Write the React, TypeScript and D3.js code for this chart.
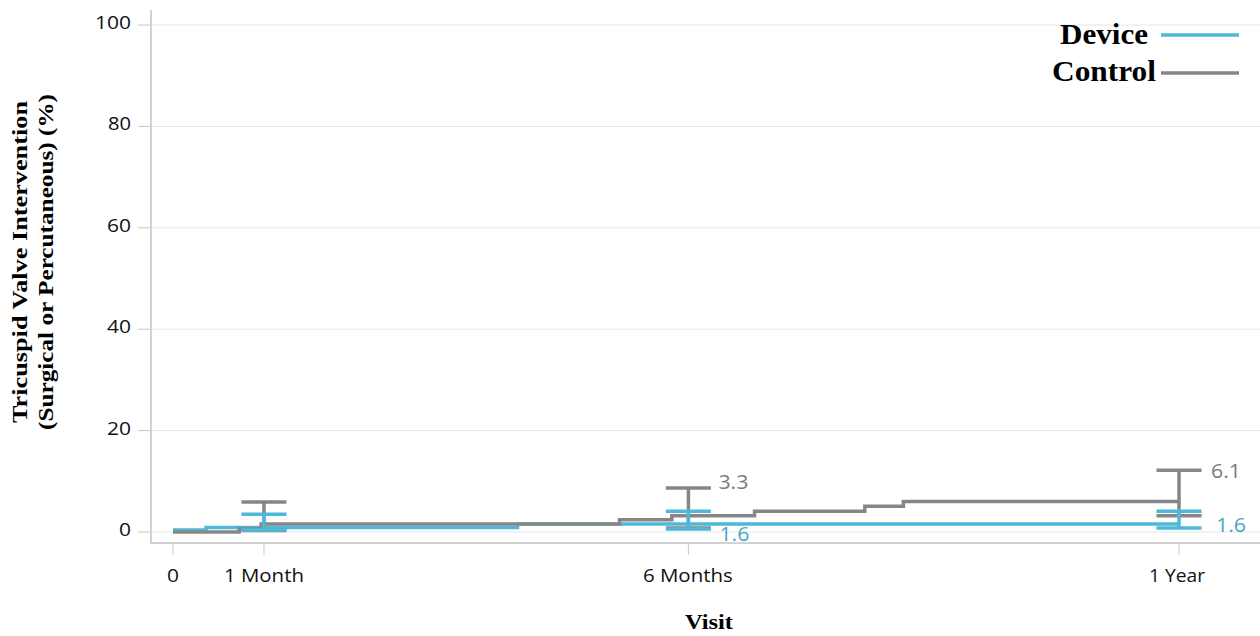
import React from "react";
import * as d3 from "d3";

// ---- data ----
const tickDays = [0, 33, 187, 365];
const tickLabels = ["0", "1 Month", "6 Months", "1 Year"];
const yTicks = [0, 20, 40, 60, 80, 100];

const deviceTimes = [0, 12, 125, 365];
const deviceValues = [0.4, 0.9, 1.6, 1.6];
const controlTimes = [0, 24, 32, 162, 181, 211, 251, 265, 365];
const controlValues = [0, 0.6, 1.6, 2.4, 3.2, 4.1, 5.1, 6.0, 6.0];

const visitDays = [33, 187, 365];
const deviceLower = [0.4, 0.6, 0.8];
const deviceUpper = [3.5, 4.1, 4.1];
const controlLower = [0.3, 0.8, 3.2];
const controlUpper = [5.9, 8.7, 12.2];

const annotDays = [187, 187, 365, 365];
const annotTexts = ["3.3", "1.6", "6.1", "1.6"];
const annotSeries = ["control", "device", "control", "device"];

const BLUE = "#4db8d8";
const GRAY = "#868686";
const BLUE_TXT = "#4aa6c6";
const GRAY_TXT = "#7c7c7c";

const W = 1260;
const H = 636;

const x = d3.scaleLinear().domain([0, 365]).range([173, 1179]);
const y = d3.scaleLinear().domain([0, 100]).range([532, 25]);

const stepLine = d3
  .line<[number, number]>()
  .x((d) => x(d[0]))
  .y((d) => y(d[1]))
  .curve(d3.curveStepAfter);

function T(props: any) {
  const { children, len, ...rest } = props;
  return (
    <text textLength={len} lengthAdjust="spacingAndGlyphs" {...rest}>
      {children}
    </text>
  );
}

export default function App() {
  const devPts = deviceTimes.map((t, i) => [t, deviceValues[i]] as [number, number]);
  const conPts = controlTimes.map((t, i) => [t, controlValues[i]] as [number, number]);
  const capHalf = 22.5;
  const sans = "'Open Sans', Lato, sans-serif";
  const serif = "'Liberation Serif', 'Times New Roman', serif";

  const yLabelLens: Record<number, number> = { 0: 12, 20: 24, 40: 24, 60: 24, 80: 23, 100: 36 };
  const xLabelLens = [12, 80, 90, 56];

  const annotDx = [30, 31, 32, 37];
  const annotDy = [-6, 4.5, 0.5, -3];

  const errBars = (lower: number[], upper: number[], color: string) =>
    visitDays.map((v, i) => (
      <g key={i} stroke={color} strokeWidth={3.5}>
        <line x1={x(v)} x2={x(v)} y1={y(upper[i])} y2={y(lower[i])} />
        <line x1={x(v) - capHalf} x2={x(v) + capHalf} y1={y(upper[i])} y2={y(upper[i])} />
        <line x1={x(v) - capHalf} x2={x(v) + capHalf} y1={y(lower[i])} y2={y(lower[i])} />
      </g>
    ));

  return (
    <svg
      width={W}
      height={H}
      style={{ position: "absolute", left: 0, top: 0, background: "#fff" }}
    >
      {/* grid */}
      {yTicks.map((t) => (
        <line key={"g" + t} x1={151} x2={W} y1={y(t)} y2={y(t)} stroke="#e6e6e6" strokeWidth={1} />
      ))}
      {/* frame */}
      <line x1={151} x2={151} y1={10} y2={544} stroke="#d2d2d2" strokeWidth={2} />
      <line x1={150} x2={W} y1={543} y2={543} stroke="#d2d2d2" strokeWidth={2} />
      {/* y ticks */}
      {yTicks.map((t) => (
        <g key={"yt" + t}>
          <line x1={138} x2={151} y1={y(t)} y2={y(t)} stroke="#c8c8c8" strokeWidth={1} />
          <T
            x={131 - yLabelLens[t]}
            y={y(t) + 4}
            len={yLabelLens[t]}
            fontFamily={sans}
            fontSize={17.5}
            fill="#111"
          >
            {t}
          </T>
        </g>
      ))}
      {/* x ticks */}
      {tickDays.map((d, i) => (
        <g key={"xt" + i}>
          <line x1={x(d)} x2={x(d)} y1={544} y2={555} stroke="#c8c8c8" strokeWidth={1} />
          <T
            x={x(d) - xLabelLens[i] / 2 + (i === 2 ? -0.5 : i === 3 ? -2 : 0)}
            y={582}
            len={xLabelLens[i]}
            fontFamily={sans}
            fontSize={19}
            fill="#111"
          >
            {tickLabels[i]}
          </T>
        </g>
      ))}

      {/* curves */}
      <path d={stepLine(devPts) || ""} fill="none" stroke={BLUE} strokeWidth={3.5} />
      <path d={stepLine(conPts) || ""} fill="none" stroke={GRAY} strokeWidth={3.5} />
      {errBars(controlLower, controlUpper, GRAY)}
      {errBars(deviceLower, deviceUpper, BLUE)}

      {/* annotations */}
      {annotDays.map((d, i) => {
        const idx = visitDays.indexOf(d);
        const isCon = annotSeries[i] === "control";
        const anchor = isCon ? controlUpper[idx] : deviceLower[idx];
        return (
          <T
            key={"a" + i}
            x={x(d) + annotDx[i]}
            y={y(anchor) + annotDy[i] + 7.5}
            len={30}
            fontFamily={sans}
            fontSize={20.5}
            fill={isCon ? GRAY_TXT : BLUE_TXT}
          >
            {annotTexts[i]}
          </T>
        );
      })}

      {/* legend */}
      <T x={1060} y={44} len={88} fontFamily={serif} fontWeight="bold" fontSize={29} fill="#000">
        Device
      </T>
      <line x1={1161} x2={1239} y1={35} y2={35} stroke={BLUE} strokeWidth={3.5} />
      <T x={1052} y={81} len={104} fontFamily={serif} fontWeight="bold" fontSize={29} fill="#000">
        Control
      </T>
      <line x1={1161} x2={1239} y1={73} y2={73} stroke={GRAY} strokeWidth={3.5} />

      {/* axis titles */}
      <g transform="translate(27,262) rotate(-90)">
        <T x={-161} y={0} len={322} fontFamily={serif} fontWeight="bold" fontSize={22} fill="#000">
          Tricuspid Valve Intervention
        </T>
      </g>
      <g transform="translate(53,262) rotate(-90)">
        <T x={-168} y={0} len={336} fontFamily={serif} fontWeight="bold" fontSize={22} fill="#000">
          (Surgical or Percutaneous) (%)
        </T>
      </g>
      <T x={685} y={629} len={48} fontFamily={serif} fontWeight="bold" fontSize={22} fill="#000">
        Visit
      </T>
    </svg>
  );
}
